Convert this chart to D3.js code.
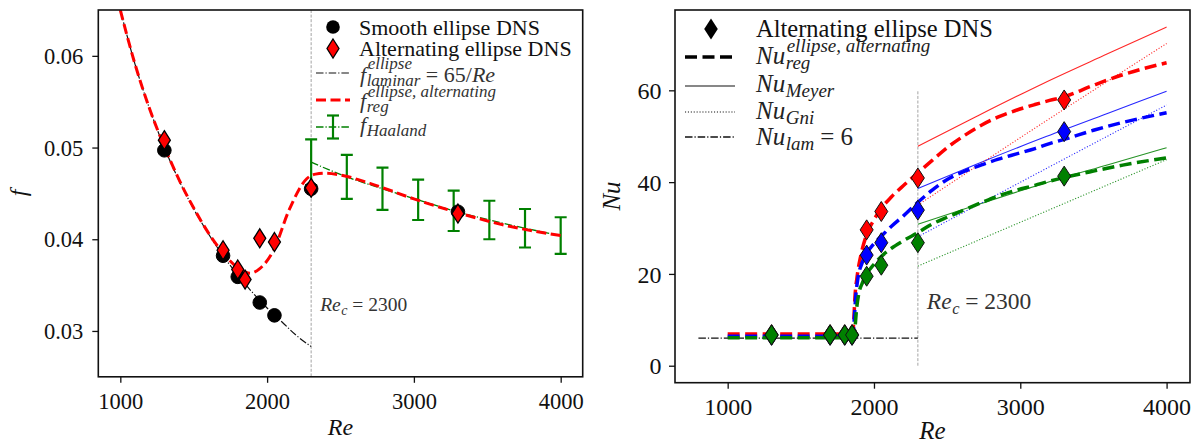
<!DOCTYPE html>
<html><head><meta charset="utf-8">
<script src="https://cdn.jsdelivr.net/npm/d3@7"></script>
<style>
body{margin:0;background:#fff}
svg{display:block}
</style>
</head><body>
<svg id="c" width="1198" height="445"></svg>
<script>
// ---------------- data (left panel: friction factor) ----------------
const fTicksX = [1000, 2000, 3000, 4000];
const fTicksY = [0.03, 0.04, 0.05, 0.06];
const fTickLabels = ["0.03", "0.04", "0.05", "0.06"];
const smoothRe = [1300, 1700, 1800, 1950, 2050, 2300, 3300];
const smoothF  = [0.0497, 0.0382, 0.0359, 0.0331, 0.0317, 0.0455, 0.0430];
const altRe = [1300, 1700, 1800, 1850, 1950, 2050, 2300, 3300];
const altF  = [0.0508, 0.0388, 0.0367, 0.0356, 0.0401, 0.0397, 0.0456, 0.0428];
const lamRe = [1000, 1100, 1200, 1300, 1400, 1500, 1600, 1700, 1800, 1900, 2000, 2100, 2200, 2300];
const lamF  = [0.0650, 0.0591, 0.0542, 0.0500, 0.0464, 0.0433, 0.0406, 0.0382, 0.0361, 0.0342, 0.0325, 0.0310, 0.0295, 0.0283];
const fRegRe = [1000, 1100, 1200, 1300, 1400, 1500, 1600, 1700, 1800, 1885, 1950, 2044, 2150, 2270, 2330, 2400, 2500, 2700, 3000, 3300, 3600, 4000];
const fRegF  = [0.0650, 0.0591, 0.0542, 0.0501, 0.0465, 0.0434, 0.0407, 0.0385, 0.0369, 0.0363, 0.0368, 0.0388, 0.0432, 0.0466, 0.0471, 0.0472, 0.0470, 0.0461, 0.0444, 0.0429, 0.0416, 0.0404];
const haalandRe  = [2300, 2543, 2786, 3029, 3271, 3514, 3757, 4000];
const haalandF   = [0.0484, 0.0468, 0.0455, 0.0443, 0.0431, 0.0421, 0.0412, 0.0404];
const haalandErr = [0.0025, 0.0024, 0.0023, 0.0022, 0.0022, 0.0021, 0.0021, 0.0020];
const reCrit = 2300;

// ---------------- data (right panel: Nusselt number) ----------------
const nuTicksX = [1000, 2000, 3000, 4000];
const nuTicksY = [0, 20, 40, 60];
const dnsRe    = [1300, 1700, 1800, 1850, 1950, 2050, 2300, 3300];
const dnsRed   = [6.8, 6.8, 6.8, 6.8, 29.6, 33.6, 40.9, 57.9];
const dnsBlue  = [6.6, 6.6, 6.6, 6.6, 24.1, 26.8, 33.9, 51.0];
const dnsGreen = [6.7, 6.7, 6.7, 6.7, 19.5, 21.9, 26.8, 41.3];
const regRedRe = [1000, 1855, 1862, 1870, 1885, 1910, 1950, 2000, 2050, 2120, 2200, 2300, 2400, 2512, 2620, 2740, 2850, 2968, 3100, 3200, 3300, 3500, 3700, 4000];
const regRed   = [6.9, 6.9, 10, 15, 19.5, 24, 28.6, 31.8, 34.3, 36.8, 39.2, 42.0, 44.8, 47.8, 50.2, 52.5, 54.2, 55.6, 56.9, 57.8, 58.6, 61.1, 63.4, 66.0];
const regBlueRe = [1000, 1858, 1865, 1875, 1890, 1920, 1950, 2000, 2050, 2120, 2200, 2300, 2400, 2512, 2620, 2740, 2850, 2968, 3100, 3200, 3300, 3500, 3700, 4000];
const regBlue   = [6.4, 6.4, 10, 15, 19, 22.5, 24.5, 26.6, 28.2, 30.4, 32.6, 35.6, 38.3, 40.8, 42.4, 43.8, 45.0, 46.1, 47.3, 48.4, 49.3, 51.3, 53.0, 55.1];
const regGreenRe = [1000, 1865, 1870, 1880, 1895, 1920, 1950, 2000, 2050, 2120, 2200, 2300, 2400, 2512, 2620, 2740, 2850, 2968, 3100, 3200, 3300, 3500, 3700, 4000];
const regGreen   = [6.1, 6.1, 8, 12, 15.5, 18, 20, 22.1, 23.8, 25.6, 27.2, 29.0, 30.9, 32.5, 34.0, 35.6, 37.0, 38.2, 39.3, 40.2, 41.0, 42.4, 43.7, 45.3];
const meyerRe    = [2300, 2700, 3150, 3600, 4000];
const meyerRed   = [47.8, 54.3, 61.4, 68.0, 73.8];
const meyerBlue  = [38.6, 43.9, 49.6, 55.0, 59.8];
const meyerGreen = [30.8, 35.0, 39.6, 43.8, 47.5];
const gniRe    = [2300, 3150, 4000];
const gniRed   = [35.0, 52.8, 70.2];
const gniBlue  = [28.1, 42.5, 56.8];
const gniGreen = [21.7, 33.3, 44.9];
const nuLamRe = [800, 2300];
const nuLam   = [6, 6];
const nuVline = [0, 60];

// ---------------- styles ----------------
const FONT = '"Liberation Serif"';
const RED = "#ff0000", BLUE = "#0000ff", GREEN = "#008000";
const svg = d3.select("#c");

function zip(a, b) { return a.map((v, i) => [v, b[i]]); }
function diamond(h, w) { return `M0,${-h}L${w},0L0,${h}L${-w},0Z`; }
function txt(g, x, y, size, s, italic, fill) {
  return g.append("text").attr("x", x).attr("y", y)
    .style("font-family", FONT).style("font-size", size + "px")
    .style("font-style", italic ? "italic" : "normal")
    .attr("fill", fill || "#111").text(s);
}
function fontify(sel, fs) {
  sel.style("font-family", FONT).style("font-size", fs + "px").attr("fill", "#111");
}

function frameAndAxes(g, x, y, box, xt, yt, yfmt, fs, ylabPad) {
  const ax = g.append("g").attr("transform", `translate(0,${box.y1})`)
    .call(d3.axisBottom(x).tickValues(xt).tickSize(6).tickFormat(d3.format("d")));
  ax.select(".domain").remove();
  ax.selectAll("line").attr("stroke", "#111").attr("stroke-width", 1.3);
  fontify(ax.selectAll("text").attr("dy", null).attr("y", 32), fs);
  const ay = g.append("g").attr("transform", `translate(${box.x0},0)`)
    .call(d3.axisLeft(y).tickValues(yt).tickSize(6).tickFormat(yfmt));
  ay.select(".domain").remove();
  ay.selectAll("line").attr("stroke", "#111").attr("stroke-width", 1.3);
  fontify(ay.selectAll("text").attr("x", -ylabPad).attr("dy", "0.34em"), fs);
}

function math(g, x, y, size, fill, base, sup, supDy, sub, subDy, ss, tail) {
  const t0 = txt(g, x, y, size, base, true, fill);
  const w = t0.node().getComputedTextLength();
  let ws = 0, wb = 0;
  if (sup) ws = txt(g, x + w + 1.5, y + supDy, ss, sup, true, fill).node().getComputedTextLength();
  if (sub) wb = txt(g, x + w + 0.5, y + subDy, ss, sub, true, fill).node().getComputedTextLength();
  if (tail) {
    let xx = x + w + 1.5 + Math.max(ws, wb) + size * 0.2;
    tail.forEach(p => {
      const t = txt(g, xx, y, size, p[0], p[1], fill);
      xx += t.node().getComputedTextLength();
    });
  }
}

svg.append("defs");
svg.select("defs").append("clipPath").attr("id", "clipL").append("rect")
  .attr("x", 98.3).attr("y", 10).attr("width", 484.4).attr("height", 366.8);
svg.select("defs").append("clipPath").attr("id", "clipR").append("rect")
  .attr("x", 675).attr("y", 10).attr("width", 515).attr("height", 372.7);

// ================= LEFT PANEL =================
const LB = {x0: 98.3, x1: 582.7, y0: 10, y1: 376.8};
const xL = d3.scaleLinear().domain([850, 4150]).range([LB.x0, LB.x1]);
const yL = d3.scaleLinear().domain([0.025, 0.065]).range([LB.y1, LB.y0]);
const gL = svg.append("g");
const pL = gL.append("g").attr("clip-path", "url(#clipL)");

pL.append("line").attr("x1", xL(reCrit)).attr("x2", xL(reCrit)).attr("y1", LB.y0).attr("y2", LB.y1)
  .attr("stroke", "#9a9a9a").attr("stroke-width", 0.9).attr("stroke-dasharray", "3,1.6");

const lineL = d3.line().x(d => xL(d[0])).y(d => yL(d[1])).curve(d3.curveMonotoneX);
pL.append("path").datum(zip(lamRe, lamF)).attr("d", lineL)
  .attr("fill", "none").attr("stroke", "#111").attr("stroke-width", 1.2).attr("stroke-dasharray", "7.5,2,1.2,2");
pL.append("path").datum(zip(haalandRe, haalandF)).attr("d", lineL)
  .attr("fill", "none").attr("stroke", GREEN).attr("stroke-width", 1.3).attr("stroke-dasharray", "7.5,2,1.2,2");
const eb = pL.append("g").attr("stroke", GREEN).attr("stroke-width", 2.2);
haalandRe.forEach((r, i) => {
  const xx = xL(r), yt = yL(haalandF[i] + haalandErr[i]), yb = yL(haalandF[i] - haalandErr[i]);
  eb.append("line").attr("x1", xx).attr("x2", xx).attr("y1", yt).attr("y2", yb);
  eb.append("line").attr("x1", xx - 6).attr("x2", xx + 6).attr("y1", yt).attr("y2", yt);
  eb.append("line").attr("x1", xx - 6).attr("x2", xx + 6).attr("y1", yb).attr("y2", yb);
});
pL.append("path").datum(zip(fRegRe, fRegF)).attr("d", lineL)
  .attr("fill", "none").attr("stroke", RED).attr("stroke-width", 3).attr("stroke-dasharray", "10,4.5");
pL.append("g").selectAll("circle").data(zip(smoothRe, smoothF)).join("circle")
  .attr("cx", d => xL(d[0])).attr("cy", d => yL(d[1])).attr("r", 6.8)
  .attr("fill", "#000").attr("stroke", "#000").attr("stroke-width", 1);
pL.append("g").selectAll("path").data(zip(altRe, altF)).join("path")
  .attr("transform", d => `translate(${xL(d[0])},${yL(d[1])})`).attr("d", diamond(9.5, 6))
  .attr("fill", RED).attr("stroke", "#000").attr("stroke-width", 1.3);

gL.append("rect").attr("x", LB.x0).attr("y", LB.y0).attr("width", LB.x1 - LB.x0).attr("height", LB.y1 - LB.y0)
  .attr("fill", "none").attr("stroke", "#111").attr("stroke-width", 1.6);
frameAndAxes(gL, xL, yL, LB, fTicksX, fTicksY, (d, i) => fTickLabels[i], 22.5, 15);

txt(gL, (LB.x0 + LB.x1) / 2, 435, 24, "Re", true).attr("text-anchor", "middle");
txt(gL, 0, 0, 24, "f", true).attr("transform", "translate(26,193) rotate(-90)").attr("text-anchor", "middle");
math(gL, xL(reCrit) + 9, 311, 19.5, "#333", "Re", null, 0, "c", 4, 14, [["= 2300", false]]);

// legend left
const lgL = gL.append("g");
lgL.append("circle").attr("cx", 333).attr("cy", 27).attr("r", 6.8).attr("fill", "#000");
txt(lgL, 359, 34.5, 22, "Smooth ellipse DNS", false);
lgL.append("path").attr("transform", "translate(333,48.5)").attr("d", diamond(9.5, 6))
  .attr("fill", RED).attr("stroke", "#000").attr("stroke-width", 1.3);
txt(lgL, 359, 56, 22, "Alternating ellipse DNS", false);
lgL.append("line").attr("x1", 316).attr("x2", 350).attr("y1", 73).attr("y2", 73)
  .attr("stroke", "#111").attr("stroke-width", 1.2).attr("stroke-dasharray", "7.5,2,1.2,2");
math(lgL, 360, 82, 22, "#333", "f", "ellipse", -13, "laminar", 4, 17, [["= 65/", false], ["Re", true]]);
lgL.append("line").attr("x1", 316).attr("x2", 350).attr("y1", 100).attr("y2", 100)
  .attr("stroke", RED).attr("stroke-width", 3).attr("stroke-dasharray", "10,4.5");
math(lgL, 360, 108, 22, "#333", "f", "ellipse, alternating", -11, "reg", 4, 17, null);
lgL.append("line").attr("x1", 316).attr("x2", 350).attr("y1", 127).attr("y2", 127)
  .attr("stroke", GREEN).attr("stroke-width", 1.3).attr("stroke-dasharray", "7.5,2,1.2,2");
lgL.append("line").attr("x1", 333).attr("x2", 333).attr("y1", 115.5).attr("y2", 138.5).attr("stroke", GREEN).attr("stroke-width", 2.2);
lgL.append("line").attr("x1", 327).attr("x2", 339).attr("y1", 115.5).attr("y2", 115.5).attr("stroke", GREEN).attr("stroke-width", 2.2);
lgL.append("line").attr("x1", 327).attr("x2", 339).attr("y1", 138.5).attr("y2", 138.5).attr("stroke", GREEN).attr("stroke-width", 2.2);
math(lgL, 360, 132, 22, "#333", "f", null, 0, "Haaland", 4, 17, null);

// ================= RIGHT PANEL =================
const RB = {x0: 675, x1: 1190, y0: 10, y1: 382.7};
const xR = d3.scaleLinear().domain([640, 4160]).range([RB.x0, RB.x1]);
const yR = d3.scaleLinear().domain([-3.7, 77.5]).range([RB.y1, RB.y0]);
const gR = svg.append("g");
const pR = gR.append("g").attr("clip-path", "url(#clipR)");
const lineR = d3.line().x(d => xR(d[0])).y(d => yR(d[1])).curve(d3.curveMonotoneX);

pR.append("line").attr("x1", xR(reCrit)).attr("x2", xR(reCrit)).attr("y1", yR(nuVline[0])).attr("y2", yR(nuVline[1]))
  .attr("stroke", "#9a9a9a").attr("stroke-width", 0.9).attr("stroke-dasharray", "3,1.6");
pR.append("path").datum(zip(nuLamRe, nuLam)).attr("d", lineR)
  .attr("fill", "none").attr("stroke", "#111").attr("stroke-width", 1.3).attr("stroke-dasharray", "7.5,2,1.2,2");

const cols = [RED, BLUE, GREEN];
[meyerRed, meyerBlue, meyerGreen].forEach((s, k) => {
  pR.append("path").datum(zip(meyerRe, s)).attr("d", lineR)
    .attr("fill", "none").attr("stroke", cols[k]).attr("stroke-width", 1.1).attr("stroke-opacity", 0.85);
});
[gniRed, gniBlue, gniGreen].forEach((s, k) => {
  pR.append("path").datum(zip(gniRe, s)).attr("d", lineR)
    .attr("fill", "none").attr("stroke", cols[k]).attr("stroke-width", 1.1).attr("stroke-opacity", 0.85)
    .attr("stroke-dasharray", "1.1,1.8");
});
[[regRedRe, regRed], [regBlueRe, regBlue], [regGreenRe, regGreen]].forEach((s, k) => {
  pR.append("path").datum(zip(s[0], s[1])).attr("d", lineR)
    .attr("fill", "none").attr("stroke", cols[k]).attr("stroke-width", 3.5).attr("stroke-dasharray", "12,5.5");
});
[dnsRed, dnsBlue, dnsGreen].forEach((s, k) => {
  pR.append("g").selectAll("path").data(zip(dnsRe, s)).join("path")
    .attr("transform", d => `translate(${xR(d[0])},${yR(d[1])})`).attr("d", diamond(10, 6.5))
    .attr("fill", cols[k]).attr("stroke", "#111").attr("stroke-width", 1);
});

gR.append("rect").attr("x", RB.x0).attr("y", RB.y0).attr("width", RB.x1 - RB.x0).attr("height", RB.y1 - RB.y0)
  .attr("fill", "none").attr("stroke", "#111").attr("stroke-width", 1.6);
frameAndAxes(gR, xR, yR, RB, nuTicksX, nuTicksY, d3.format("d"), 24, 13.5);

txt(gR, (RB.x0 + RB.x1) / 2, 439, 25, "Re", true).attr("text-anchor", "middle");
txt(gR, 0, 0, 25, "Nu", true).attr("transform", "translate(620,196) rotate(-90)").attr("text-anchor", "middle");
math(gR, xR(reCrit) + 9, 309, 23.5, "#333", "Re", null, 0, "c", 5, 16.5, [["= 2300", false]]);

// legend right
const lgR = gR.append("g");
lgR.append("path").attr("transform", "translate(711,29)").attr("d", diamond(10.5, 6.8)).attr("fill", "#000");
txt(lgR, 756, 37, 24.5, "Alternating ellipse DNS", false);
lgR.append("line").attr("x1", 685).attr("x2", 735).attr("y1", 57).attr("y2", 57)
  .attr("stroke", "#000").attr("stroke-width", 3.5).attr("stroke-dasharray", "12,5.5");
math(lgR, 756, 64, 25, "#222", "Nu", "ellipse, alternating", -12, "reg", 5, 19, null);
lgR.append("line").attr("x1", 685).attr("x2", 735).attr("y1", 86).attr("y2", 86)
  .attr("stroke", "#111").attr("stroke-width", 1.2);
math(lgR, 756, 92, 25, "#222", "Nu", null, 0, "Meyer", 5, 19, null);
lgR.append("line").attr("x1", 685).attr("x2", 735).attr("y1", 112).attr("y2", 112)
  .attr("stroke", "#111").attr("stroke-width", 1.2).attr("stroke-dasharray", "1.1,1.8");
math(lgR, 756, 119, 25, "#222", "Nu", null, 0, "Gni", 5, 19, null);
lgR.append("line").attr("x1", 685).attr("x2", 735).attr("y1", 137).attr("y2", 137)
  .attr("stroke", "#111").attr("stroke-width", 1.3).attr("stroke-dasharray", "7.5,2,1.2,2");
math(lgR, 756, 145, 25, "#222", "Nu", null, 0, "lam", 5, 19, [["= 6", false]]);
</script>
</body></html>
